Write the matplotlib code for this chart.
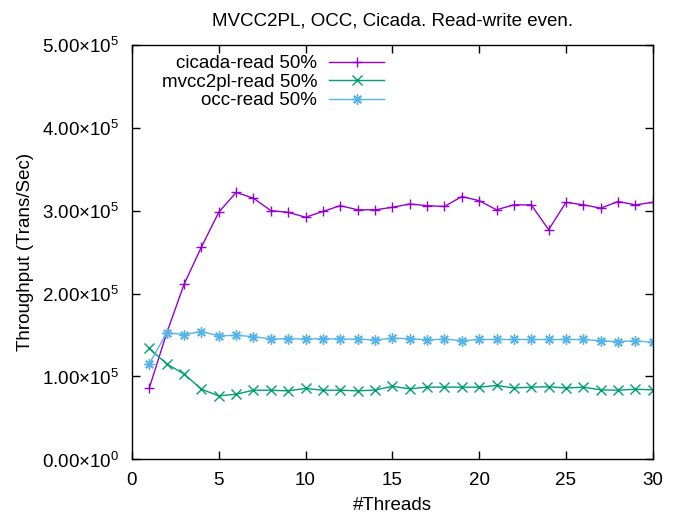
import matplotlib

matplotlib.use("Agg")
import matplotlib.pyplot as plt
from matplotlib.ticker import FixedLocator, FuncFormatter

plt.rcParams["font.family"] = ["Liberation Sans", "DejaVu Sans"]
plt.rcParams["mathtext.fontset"] = "custom"
plt.rcParams["mathtext.rm"] = "Liberation Sans"

threads = list(range(1, 31))

cicada = [86000, 152000, 211000, 256000, 298000, 322000, 315000, 300000, 298000, 292000,
          299000, 306000, 301000, 301000, 304000, 308000, 306000, 305000, 317000, 312000,
          301000, 307000, 307000, 277000, 310000, 307000, 303000, 311000, 307000, 310000]
mvcc2pl = [134000, 115000, 103000, 84500, 76500, 78500, 83300, 83300, 82500, 85400,
           83300, 83300, 82500, 83500, 88000, 85000, 87000, 87000, 87000, 87000,
           89000, 86000, 87000, 87500, 86000, 87000, 83700, 83300, 84500, 83700]
occ = [115000, 152500, 150500, 154000, 149000, 149500, 148000, 145000, 145500, 145000,
       145500, 145000, 145000, 144000, 146000, 145500, 144000, 145000, 143000, 144500,
       144500, 144500, 144500, 144500, 144500, 144500, 143000, 142000, 143000, 141000]

labels = ["cicada-read 50%", "mvcc2pl-read 50%", "occ-read 50%"]
colors = ["#9400d3", "#009e73", "#56b4e9"]
markers = ["+", "x", (8, 2, 0)]

FS = 13.5

fig = plt.figure(figsize=(6.8, 5.16), dpi=100)
ax = fig.add_axes([0.194, 0.110, 0.766, 0.803])

for ys, lab, col, mk in zip([cicada, mvcc2pl, occ], labels, colors, markers):
    ax.plot(threads, ys, color=col, marker=mk, markersize=7.5, markeredgewidth=1.0,
            linewidth=1.0, label=lab)

ax.set_xlim(0, 30)
ax.set_ylim(0, 500000)
ax.xaxis.set_major_locator(FixedLocator([0, 5, 10, 15, 20, 25, 30]))
ax.yaxis.set_major_locator(FixedLocator([0, 100000, 200000, 300000, 400000, 500000]))


def sci(v, pos):
    if v == 0:
        return "0.00×10$^{0}$"
    e = 5
    return "%.2f×10$^{%d}$" % (v / 10 ** e, e)


ax.yaxis.set_major_formatter(FuncFormatter(sci))
ax.tick_params(direction="in", length=6, width=1, top=True, right=True,
               labelsize=FS, pad=9)
for s in ax.spines.values():
    s.set_linewidth(1.0)

ax.set_xlabel("#Threads", fontsize=FS, labelpad=6)
ax.set_ylabel("Throughput (Trans/Sec)", fontsize=FS, labelpad=6)
ax.set_title("MVCC2PL, OCC, Cicada. Read-write even.", fontsize=FS, pad=14)

ax.legend(loc="upper right", bbox_to_anchor=(0.487, 0.98), frameon=False,
          markerfirst=False, fontsize=FS, handlelength=2.9, handletextpad=0.65,
          labelspacing=0.08, borderaxespad=0, borderpad=0.1)

fig.savefig("out.png", dpi=100)
